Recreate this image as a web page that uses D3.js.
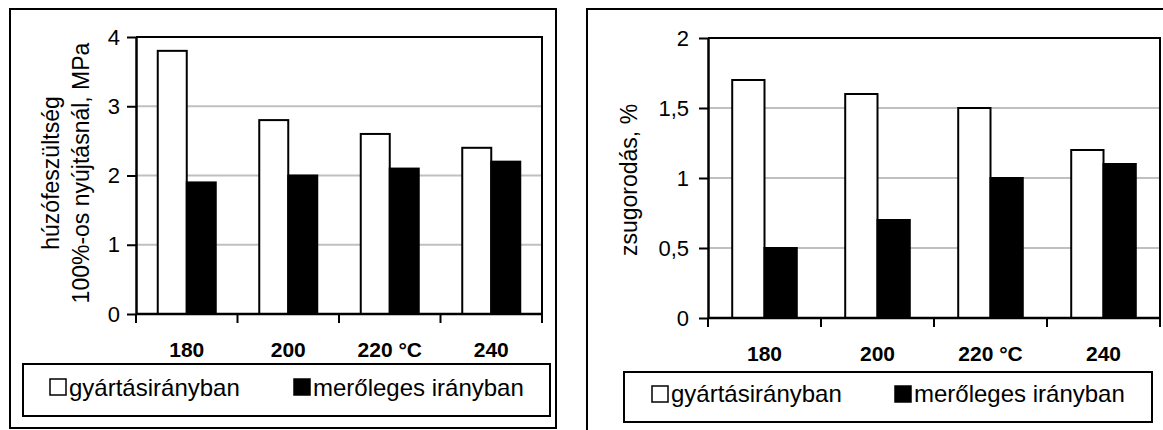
<!DOCTYPE html>
<html>
<head>
<meta charset="utf-8">
<script src="https://cdn.jsdelivr.net/npm/d3@7"></script>
<style>
body { margin: 0; background: #fff; }
svg { display: block; font-family: "Liberation Sans", Arial, sans-serif; }
</style>
</head>
<body>
<svg id="chart"></svg>
<script>
// temperatures (x categories) and the two directions
var categories = ["180", "200", "220 °C", "240"];
var seriesNames = ["gyártásirányban", "merőleges irányban"];

// left chart: tensile stress at 100% elongation, MPa
var tensileMachine = [3.8, 2.8, 2.6, 2.4];
var tensilePerp = [1.9, 2.0, 2.1, 2.2];
var tensileTicks = [0, 1, 2, 3, 4];

// right chart: shrinkage, %
var shrinkMachine = [1.7, 1.6, 1.5, 1.2];
var shrinkPerp = [0.5, 0.7, 1.0, 1.1];
var shrinkTicks = [0, 0.5, 1, 1.5, 2];

var svg = d3.select("#chart")
	.attr("width", 1163)
	.attr("height", 430);

function commaFmt(d) { return String(d).replace(".", ","); }

function drawChart(o) {
	var g = svg.append("g");

	// outer chart frame
	g.append("rect")
		.attr("x", o.frame[0]).attr("y", o.frame[1])
		.attr("width", o.frame[2]).attr("height", o.frame[3])
		.attr("fill", "#fff").attr("stroke", "#000").attr("stroke-width", 2);

	var x = d3.scaleBand()
		.domain(categories)
		.range([o.left, o.right]);

	var xs = d3.scaleBand()
		.domain([0, 1])
		.range([0, x.bandwidth()])
		.paddingOuter(0.75);

	var y = d3.scaleLinear()
		.domain([0, d3.max(o.ticks)])
		.range([o.bottom, o.top]);

	// gridlines
	g.selectAll(".grid")
		.data(o.ticks.slice(1, -1))
		.enter().append("line")
		.attr("x1", o.left).attr("x2", o.right)
		.attr("y1", function(d) { return y(d); })
		.attr("y2", function(d) { return y(d); })
		.attr("stroke", "#c0c0c0").attr("stroke-width", 2);

	// plot area border (top and right)
	g.append("path")
		.attr("d", "M" + o.left + "," + o.top + "H" + o.right + "V" + o.bottom)
		.attr("fill", "none").attr("stroke", "#000").attr("stroke-width", 2);

	var rows = categories.map(function(c, i) {
		return { cat: c, values: [o.s1[i], o.s2[i]] };
	});

	var grp = g.selectAll(".grp")
		.data(rows)
		.enter().append("g")
		.attr("transform", function(d) { return "translate(" + x(d.cat) + ",0)"; });

	grp.selectAll("rect")
		.data(function(d) { return d.values; })
		.enter().append("rect")
		.attr("x", function(d, i) { return xs(i); })
		.attr("width", xs.bandwidth())
		.attr("y", function(d) { return y(d); })
		.attr("height", function(d) { return y(0) - y(d); })
		.attr("fill", function(d, i) { return i == 0 ? "#fff" : "#000"; })
		.attr("stroke", "#000")
		.attr("stroke-width", 2);

	// y axis
	var ya = g.append("g")
		.attr("transform", "translate(" + o.left + ",0)")
		.call(d3.axisLeft(y).tickValues(o.ticks).tickFormat(commaFmt)
			.tickSize(9).tickSizeOuter(0).tickPadding(o.tickPad));
	ya.select(".domain").attr("stroke-width", 2.5);
	ya.selectAll(".tick line").attr("stroke-width", 2);
	ya.selectAll(".tick text")
		.attr("font-size", 22).attr("fill", "#000")
		.attr("font-family", "Liberation Sans, Arial, sans-serif");

	// x axis line and boundary ticks
	var bounds = categories.map(function(c) { return x(c); }).concat([o.right]);
	g.append("line")
		.attr("x1", o.left).attr("x2", o.right)
		.attr("y1", o.bottom).attr("y2", o.bottom)
		.attr("stroke", "#000").attr("stroke-width", 2.5);
	g.selectAll(".xt")
		.data(bounds)
		.enter().append("line")
		.attr("x1", function(d) { return d; }).attr("x2", function(d) { return d; })
		.attr("y1", o.bottom).attr("y2", o.bottom + 9)
		.attr("stroke", "#000").attr("stroke-width", 2);

	g.selectAll(".xl")
		.data(categories)
		.enter().append("text")
		.attr("x", function(d) { return x(d) + x.bandwidth() / 2; })
		.attr("y", o.bottom + 43)
		.attr("text-anchor", "middle")
		.attr("font-size", 21).attr("font-weight", "bold")
		.text(function(d) { return d; });

	// y axis title
	var t = g.append("text")
		.attr("transform", "translate(" + o.titleX + "," + o.titleY + ") rotate(-90)")
		.attr("text-anchor", "middle")
		.attr("font-size", 23);
	o.title.forEach(function(line, i) {
		t.append("tspan")
			.attr("x", 0)
			.attr("y", (i - o.title.length + 1) * 30)
			.text(line);
	});

	// legend
	var L = o.legend;
	g.append("rect")
		.attr("x", L.x).attr("y", L.y).attr("width", L.w).attr("height", L.h)
		.attr("fill", "#fff").attr("stroke", "#000").attr("stroke-width", 2);
	seriesNames.forEach(function(name, i) {
		g.append("rect")
			.attr("x", L.items[i]).attr("y", L.boxY)
			.attr("width", 16).attr("height", 16)
			.attr("fill", i == 0 ? "#fff" : "#000")
			.attr("stroke", "#000").attr("stroke-width", 1.5);
		g.append("text")
			.attr("x", L.items[i] + 19).attr("y", L.base)
			.attr("font-size", 24)
			.text(name);
	});
}

drawChart({
	frame: [10, 9, 546, 419],
	left: 136, right: 542, top: 37, bottom: 314,
	ticks: tensileTicks, tickPad: 7,
	s1: tensileMachine, s2: tensilePerp,
	title: ["húzófeszültség", "100%-os nyújtásnál, MPa"],
	titleX: 89, titleY: 173,
	legend: { x: 23, y: 364, w: 527, h: 52, items: [50, 294], boxY: 379, base: 396 }
});

drawChart({
	frame: [587, 9, 600, 440],
	left: 708, right: 1160, top: 38, bottom: 318,
	ticks: shrinkTicks, tickPad: 10,
	s1: shrinkMachine, s2: shrinkPerp,
	title: ["zsugorodás, %"],
	titleX: 637, titleY: 180,
	legend: { x: 624, y: 372, w: 528, h: 50, items: [652, 895], boxY: 386, base: 402 }
});
</script>
</body>
</html>
